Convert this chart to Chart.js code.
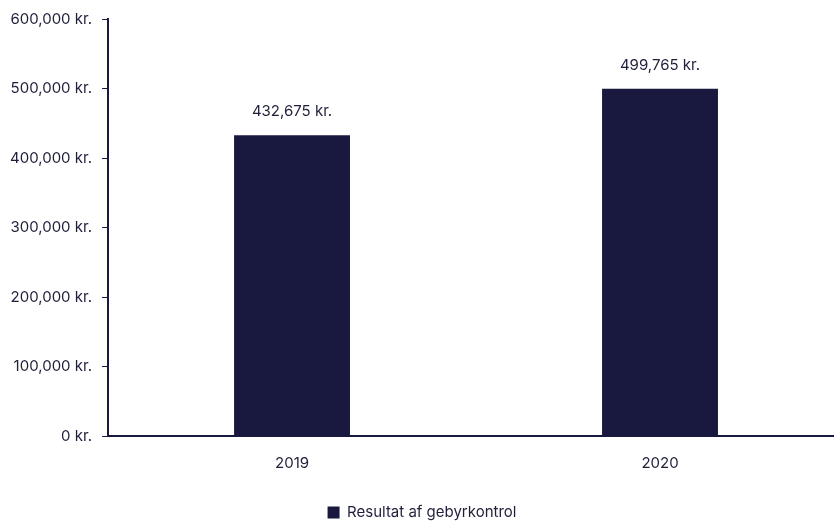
<!DOCTYPE html>
<html>
<head>
<meta charset="utf-8">
<script src="https://cdn.jsdelivr.net/npm/chart.js@4"></script>
<style>
  html, body { margin: 0; padding: 0; background: #fff; overflow: hidden; }
  #wrap { width: 844px; height: 521px; position: relative; }
</style>
</head>
<body>
<div id="wrap"><canvas id="chart"></canvas></div>
<script>
// ── Data ─────────────────────────────────────────────────────────────
const years = ['2019', '2020'];
const results = [432675, 499765];
const seriesLabel = 'Resultat af gebyrkontrol';

const NAVY = '#19183e';
const TEXT = '#1f1f3a';
const FONT = "Inter, 'Noto Sans', sans-serif";

const fmtKr = v => v.toLocaleString('en-US') + ' kr.';

// ── Value labels above bars ──────────────────────────────────────────
const valueLabels = {
    id: 'valueLabels',
    afterDatasetsDraw(chart) {
        const ctx = chart.ctx;
        ctx.save();
        ctx.font = `15px ${FONT}`;
        ctx.fillStyle = TEXT;
        ctx.textAlign = 'center';
        ctx.textBaseline = 'bottom';
        chart.getDatasetMeta(0).data.forEach((bar, i) => {
            ctx.fillText(fmtKr(results[i]), bar.x, bar.y - 16);
        });
        ctx.restore();
    }
};

new Chart(document.getElementById('chart'), {
    type: 'bar',
    data: {
        labels: years,
        datasets: [{
            label: seriesLabel,
            data: results,
            backgroundColor: NAVY,
            borderWidth: 0,
            barPercentage: 1,
            categoryPercentage: 0.315
        }]
    },
    options: {
        responsive: true,
        maintainAspectRatio: false,
        animation: false,
        // legend sits lower in the original, so let it hang into the bottom edge
        layout: { padding: { top: 10, left: 0, right: 0, bottom: -9 } },
        plugins: {
            legend: {
                position: 'bottom',
                labels: {
                    font: { family: FONT, size: 15 },
                    color: TEXT,
                    boxWidth: 12,
                    boxHeight: 12,
                    padding: 14
                }
            },
            tooltip: { enabled: false }
        },
        scales: {
            x: {
                grid: { display: false },
                border: { display: true, color: NAVY, width: 2 },
                ticks: { font: { family: FONT, size: 15 }, color: TEXT, padding: 10 },
                afterFit: s => { s.height += 9; }
            },
            y: {
                min: 0,
                max: 600000,
                grid: { drawOnChartArea: false, drawTicks: true, tickLength: 6, color: NAVY },
                border: { display: true, color: NAVY, width: 2 },
                ticks: {
                    stepSize: 100000,
                    font: { family: FONT, size: 15 },
                    color: TEXT,
                    padding: 10,
                    callback: v => fmtKr(v)
                }
            }
        }
    },
    plugins: [valueLabels]
});
</script>
</body>
</html>
